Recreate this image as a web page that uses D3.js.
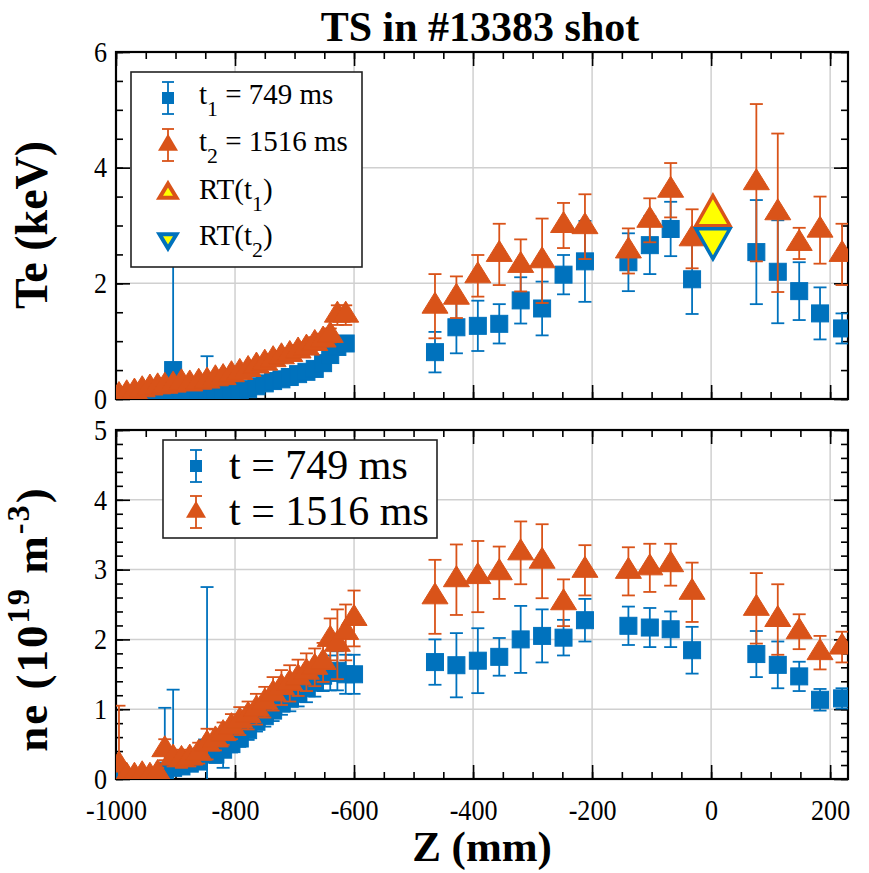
<!DOCTYPE html>
<html>
<head>
<meta charset="utf-8">
<script src="https://cdn.jsdelivr.net/npm/d3@7"></script>
<style>
  body { margin: 0; background: #fff; }
  svg text { font-family: "Liberation Serif", "Times New Roman", serif; fill: #000; }
</style>
</head>
<body>
<div id="chart"></div>
<script>
//Thomson scattering channel positions along Z (mm).
let zPos = [-995, -982, -969, -956, -943, -930, -918, -904, -890, -876, -861, -847, -833, -820, -806,
            -792, -778, -764, -750, -736, -722, -708, -694, -680, -666, -652, -640, -628, -614, -600,
            -464, -428, -392, -356, -320, -284, -248, -212, -139, -103, -68, -32, 76, 112, 148, 183, 220];

//Te at t1 = 749 ms (keV) and its error bars.
let te1 = [0.00, 0.01, 0.02, 0.02, 0.03, 0.04, 0.05, 0.50, 0.07, 0.08, 0.10, 0.12, 0.12, 0.13, 0.14,
           0.15, 0.17, 0.22, 0.27, 0.31, 0.34, 0.38, 0.43, 0.47, 0.52, 0.62, 0.76, 0.90, 0.96, null,
           0.81, 1.24, 1.265, 1.30, 1.705, 1.565, 2.15, 2.38, 2.365, 2.66, 2.94, 2.07, 2.54, 2.20, 1.865, 1.48, 1.22];
let te1Err = [0.05, 0.05, 0.05, 0.05, 0.05, 0.05, 0.06, 2.9, 0.06, 0.06, 0.06, 0.62, 0.06, 0.06, 0.06,
              0.06, 0.07, 0.07, 0.07, 0.08, 0.08, 0.08, 0.08, 0.08, 0.09, 0.09, 0.10, 0.10, 0.10, null,
              0.35, 0.45, 0.435, 0.34, 0.40, 0.465, 0.34, 0.70, 0.50, 0.50, 0.47, 0.60, 0.90, 0.89, 0.50, 0.45, 0.26];

//Te at t2 = 1516 ms (keV) and its error bars.
let te2 = [0.06, 0.09, 0.12, 0.16, 0.19, 0.21, 0.22, 0.24, 0.28, 0.26, 0.29, 0.31, 0.35, 0.37, 0.42,
           0.46, 0.51, 0.57, 0.62, 0.68, 0.73, 0.77, 0.83, 0.88, 0.96, 1.02, 1.10, 1.45, 1.45, null,
           1.605, 1.76, 2.13, 2.50, 2.31, 2.39, 3.00, 2.98, 2.56, 3.09, 3.61, 2.77, 3.74, 3.22, 2.69, 2.92, 2.50];
let te2Err = [0.06, 0.06, 0.06, 0.06, 0.06, 0.06, 0.06, 0.06, 0.07, 0.07, 0.07, 0.07, 0.07, 0.08, 0.08,
              0.08, 0.08, 0.09, 0.09, 0.09, 0.10, 0.10, 0.10, 0.10, 0.11, 0.11, 0.12, 0.17, 0.17, null,
              0.555, 0.36, 0.36, 0.53, 0.45, 0.73, 0.39, 0.56, 0.39, 0.38, 0.47, 0.51, 1.36, 1.37, 0.27, 0.58, 0.53];

//ne at 749 ms (1e19 m^-3) and its error bars.
let ne1 = [0.02, 0.02, 0.02, 0.02, 0.03, 0.03, 0.12, 0.16, 0.18, 0.22, 0.25, 0.45, 0.35, 0.42, 0.50,
           0.58, 0.70, 0.82, 0.90, 0.98, 1.08, 1.15, 1.22, 1.30, 1.38, 1.48, 1.52, 1.55, 1.50, 1.50,
           1.675, 1.63, 1.695, 1.75, 2.00, 2.05, 2.025, 2.275, 2.195, 2.17, 2.145, 1.845, 1.79, 1.635, 1.47, 1.135, 1.155];
let ne1Err = [0.05, 0.05, 0.05, 0.05, 0.05, 0.05, 0.90, 1.12, 0.08, 0.10, 0.10, 2.30, 0.12, 0.26, 0.12,
              0.12, 0.14, 0.14, 0.15, 0.15, 0.16, 0.18, 0.18, 0.20, 0.20, 0.22, 0.25, 0.28, 0.28, 0.28,
              0.325, 0.46, 0.465, 0.27, 0.48, 0.38, 0.255, 0.305, 0.275, 0.28, 0.255, 0.335, 0.33, 0.335, 0.21, 0.155, 0.145];

//ne at 1516 ms (1e19 m^-3) and its error bars.
let ne2 = [0.20, 0.04, 0.04, 0.06, 0.04, 0.08, 0.42, 0.30, 0.28, 0.30, 0.37, 0.50, 0.56, 0.65, 0.75,
           0.83, 0.91, 1.00, 1.10, 1.22, 1.31, 1.37, 1.45, 1.53, 1.60, 1.67, 2.00, 1.93, 2.10, 2.30,
           2.61, 2.855, 2.90, 2.955, 3.24, 3.12, 2.525, 2.99, 2.975, 3.025, 3.07, 2.675, 2.445, 2.285, 2.11, 1.81, 1.89];
let ne2Err = [0.85, 0.08, 0.08, 0.08, 0.08, 0.08, 0.15, 0.12, 0.12, 0.12, 0.15, 0.22, 0.15, 0.16, 0.18,
              0.20, 0.20, 0.22, 0.22, 0.24, 0.25, 0.26, 0.26, 0.27, 0.27, 0.28, 0.30, 0.50, 0.40, 0.40,
              0.53, 0.505, 0.51, 0.375, 0.45, 0.53, 0.335, 0.36, 0.345, 0.345, 0.30, 0.425, 0.505, 0.505, 0.25, 0.24, 0.22];

//Ray-tracing estimates of Te at the centre.
let rtZ = [3, 3];
let rtTe = [3.17, 2.77];

//Tick values.
let xTicks = [-1000, -800, -600, -400, -200, 0, 200];
let teTicks = [0, 2, 4, 6];
let neTicks = [0, 1, 2, 3, 4, 5];

//Colours.
const blue = "#0072BD";
const orange = "#D95319";

//Sizes of the page and the two panels.
let w = 869;
let h = 873;
let left = 116, right = 848;
let topPanel = { y0: 52, y1: 399 };
let botPanel = { y0: 430, y1: 779 };

const svg = d3.select("#chart")
  .append("svg")
  .attr("width", w)
  .attr("height", h);

let xScale = d3.scaleLinear().domain([-1000, 230]).range([left, right]);
let teScale = d3.scaleLinear().domain([0, 6]).range([topPanel.y1, topPanel.y0]);
let neScale = d3.scaleLinear().domain([0, 5]).range([botPanel.y1, botPanel.y0]);

//Plain number labels with a hyphen for negatives, as in the original figure.
const plain = d => String(d);

//Triangle path with its centroid on the data point.
function triPath(tw, th, down) {
  let s = down ? -1 : 1;
  return "M0," + (-s * 2 * th / 3) + "L" + (tw / 2) + "," + (s * th / 3) + "L" + (-tw / 2) + "," + (s * th / 3) + "Z";
}

//Draws grid, ticks and the box of one panel.
function drawFrame(yScale, yMajor, yMinorStep, clipId, showX) {
  let g = svg.append("g");
  let y0 = yScale.range()[1], y1 = yScale.range()[0];

  svg.append("clipPath").attr("id", clipId)
    .append("rect").attr("x", left).attr("y", y0).attr("width", right - left).attr("height", y1 - y0);

  //Grid lines at the major ticks.
  g.selectAll(".gx").data(xTicks.slice(1)).enter().append("line")
    .attr("x1", d => xScale(d)).attr("x2", d => xScale(d))
    .attr("y1", y0).attr("y2", y1)
    .attr("stroke", "#d0d0d0").attr("stroke-width", 1.5);
  g.selectAll(".gy").data(yMajor.slice(1, -1)).enter().append("line")
    .attr("x1", left).attr("x2", right)
    .attr("y1", d => yScale(d)).attr("y2", d => yScale(d))
    .attr("stroke", "#d0d0d0").attr("stroke-width", 1.5);

  let xMinor = d3.range(-1000, 231, 50);
  let yMinor = d3.range(0, yScale.domain()[1] + 0.001, yMinorStep);

  let axes = [
    [d3.axisBottom(xScale).tickValues(xMinor).tickSize(-7).tickFormat(""), "translate(0," + y1 + ")"],
    [d3.axisTop(xScale).tickValues(xMinor).tickSize(-7).tickFormat(""), "translate(0," + y0 + ")"],
    [d3.axisTop(xScale).tickValues(xTicks).tickSize(-14).tickFormat(""), "translate(0," + y0 + ")"],
    [d3.axisLeft(yScale).tickValues(yMinor).tickSize(-7).tickFormat(""), "translate(" + left + ",0)"],
    [d3.axisRight(yScale).tickValues(yMinor).tickSize(-7).tickFormat(""), "translate(" + right + ",0)"],
    [d3.axisRight(yScale).tickValues(yMajor).tickSize(-14).tickFormat(""), "translate(" + right + ",0)"],
    [d3.axisLeft(yScale).tickValues(yMajor).tickSize(-14).tickPadding(10).tickFormat(plain), "translate(" + left + ",0)"],
    [d3.axisBottom(xScale).tickValues(xTicks).tickSize(-14).tickPadding(20).tickFormat(showX ? plain : ""), "translate(0," + y1 + ")"]
  ];
  axes.forEach(a => {
    let ax = svg.append("g").attr("transform", a[1]).call(a[0]);
    ax.attr("font-family", "Liberation Serif").attr("font-size", 29);
    ax.select(".domain").remove();
    ax.selectAll("line").attr("stroke", "#000").attr("stroke-width", 1.6);
    ax.selectAll("text")
      .style("font-family", "'Liberation Serif', serif")
      .style("font-size", "29px")
      .attr("transform", "scale(0.9,1)")
      .attr("fill", "#000");
  });

  svg.append("rect")
    .attr("x", left).attr("y", y0).attr("width", right - left).attr("height", y1 - y0)
    .attr("fill", "none").attr("stroke", "#000").attr("stroke-width", 2.2);
}

//Draws one series with error bars and markers.
function drawSeries(yScale, vals, errs, color, shape, clipId) {
  let pts = zPos.map((z, i) => ({ z: z, v: vals[i], e: errs[i] })).filter(d => d.v !== null);
  let g = svg.append("g").attr("clip-path", "url(#" + clipId + ")");
  let eb = g.selectAll(".eb").data(pts).enter().append("g")
    .attr("stroke", color).attr("stroke-width", 1.8);
  eb.append("line")
    .attr("x1", d => xScale(d.z)).attr("x2", d => xScale(d.z))
    .attr("y1", d => yScale(d.v - d.e)).attr("y2", d => yScale(d.v + d.e));
  eb.append("line")
    .attr("x1", d => xScale(d.z) - 6.5).attr("x2", d => xScale(d.z) + 6.5)
    .attr("y1", d => yScale(d.v - d.e)).attr("y2", d => yScale(d.v - d.e));
  eb.append("line")
    .attr("x1", d => xScale(d.z) - 6.5).attr("x2", d => xScale(d.z) + 6.5)
    .attr("y1", d => yScale(d.v + d.e)).attr("y2", d => yScale(d.v + d.e));

  if (shape === "square") {
    g.selectAll(".mk").data(pts).enter().append("rect")
      .attr("x", d => xScale(d.z) - 8.5).attr("y", d => yScale(d.v) - 8.5)
      .attr("width", 17).attr("height", 17)
      .attr("fill", color).attr("stroke", color).attr("stroke-width", 1);
  } else {
    g.selectAll(".mk").data(pts).enter().append("path")
      .attr("d", triPath(26, 21, false))
      .attr("transform", d => "translate(" + xScale(d.z) + "," + yScale(d.v) + ")")
      .attr("fill", color).attr("stroke", color).attr("stroke-width", 1);
  }
}

//Legend entry marker.
function legendMarker(g, x, y, kind) {
  if (kind === "blueErr" || kind === "orangeErr") {
    let c = kind === "blueErr" ? blue : orange;
    g.append("line").attr("x1", x).attr("x2", x).attr("y1", y - 16).attr("y2", y + 16).attr("stroke", c).attr("stroke-width", 1.8);
    g.append("line").attr("x1", x - 6).attr("x2", x + 6).attr("y1", y - 16).attr("y2", y - 16).attr("stroke", c).attr("stroke-width", 1.8);
    g.append("line").attr("x1", x - 6).attr("x2", x + 6).attr("y1", y + 16).attr("y2", y + 16).attr("stroke", c).attr("stroke-width", 1.8);
    if (kind === "blueErr") {
      g.append("rect").attr("x", x - 6).attr("y", y - 6).attr("width", 12).attr("height", 12).attr("fill", c);
    } else {
      g.append("path").attr("d", triPath(20, 17, false)).attr("transform", "translate(" + x + "," + y + ")").attr("fill", c);
    }
  } else {
    let down = kind === "rt2";
    g.append("path").attr("d", triPath(17, 14, down))
      .attr("transform", "translate(" + x + "," + y + ")")
      .attr("fill", "#FFFF00").attr("stroke", down ? blue : orange).attr("stroke-width", 4).attr("stroke-linejoin", "miter");
  }
}

//Appends a label with sub/superscripts, parts = [[text, "sub"|"sup"|"back"|"", dy], ...].
function richText(t, parts, size) {
  parts.forEach(p => {
    let ts = t.append("tspan").text(p[0]);
    if (p[1] === "sub") ts.attr("font-size", size * 0.75).attr("dy", size * 0.42);
    if (p[1] === "sup") ts.attr("font-size", size * 0.72).attr("dy", -size * 0.4);
    if (p[1] === "back") ts.attr("dy", p[2]);
  });
}

drawFrame(teScale, teTicks, 0.5, "clipTop", false);
drawFrame(neScale, neTicks, 0.2, "clipBot", true);

drawSeries(teScale, te1, te1Err, blue, "square", "clipTop");
drawSeries(teScale, te2, te2Err, orange, "triangle", "clipTop");
drawSeries(neScale, ne1, ne1Err, blue, "square", "clipBot");
drawSeries(neScale, ne2, ne2Err, orange, "triangle", "clipBot");

//Ray-tracing markers.
svg.append("path").attr("d", triPath(34, 30, false))
  .attr("transform", "translate(" + xScale(rtZ[0]) + "," + teScale(rtTe[0]) + ")")
  .attr("fill", "#FFFF00").attr("stroke", orange).attr("stroke-width", 3.5);
svg.append("path").attr("d", triPath(34, 30, true))
  .attr("transform", "translate(" + xScale(rtZ[1]) + "," + teScale(rtTe[1]) + ")")
  .attr("fill", "#FFFF00").attr("stroke", blue).attr("stroke-width", 3.5);

//Legend of the Te panel.
let lg1 = svg.append("g");
lg1.append("rect").attr("x", 131).attr("y", 72).attr("width", 231).attr("height", 195)
  .attr("fill", "#fff").attr("stroke", "#222").attr("stroke-width", 1.6);
let lf = 29;
let leg1 = [
  ["blueErr", [["t", ""], ["1", "sub"], [" = 749 ms", "back", -lf * 0.42]], 98],
  ["orangeErr", [["t", ""], ["2", "sub"], [" = 1516 ms", "back", -lf * 0.42]], 145],
  ["rt1", [["RT(t", ""], ["1", "sub"], [")", "back", -lf * 0.42]], 193],
  ["rt2", [["RT(t", ""], ["2", "sub"], [")", "back", -lf * 0.42]], 239]
];
leg1.forEach(e => {
  legendMarker(lg1, 168, e[2], e[0]);
  let t = lg1.append("text").attr("x", 199).attr("y", e[2] + 6).attr("font-size", lf);
  richText(t, e[1], lf);
});

//Legend of the ne panel.
let lg2 = svg.append("g");
lg2.append("rect").attr("x", 163).attr("y", 440).attr("width", 274).attr("height", 98)
  .attr("fill", "#fff").attr("stroke", "#222").attr("stroke-width", 1.6);
legendMarker(lg2, 196, 466, "blueErr");
legendMarker(lg2, 196, 512, "orangeErr");
lg2.append("text").attr("x", 229).attr("y", 479).attr("font-size", 42).text("t = 749 ms");
lg2.append("text").attr("x", 229).attr("y", 525).attr("font-size", 42).text("t = 1516 ms");

//Title and axis labels.
svg.append("text").attr("x", 480).attr("y", 41).attr("text-anchor", "middle")
  .attr("font-size", 42).attr("font-weight", "bold").text("TS in #13383 shot");
svg.append("text").attr("x", 482).attr("y", 861).attr("text-anchor", "middle")
  .attr("font-size", 43).attr("font-weight", "bold").text("Z (mm)");
svg.append("text").attr("transform", "translate(47,225) rotate(-90)").attr("text-anchor", "middle")
  .attr("font-size", 46).attr("font-weight", "bold").text("Te (keV)");
let neLabel = svg.append("text").attr("transform", "translate(47,619) rotate(-90)").attr("text-anchor", "middle")
  .attr("font-size", 45).attr("font-weight", "bold").attr("letter-spacing", 2);
richText(neLabel, [["ne (10", ""], ["19", "sup"], [" m", "back", 45 * 0.4], ["-3", "sup"], [")", "back", 45 * 0.4]], 45);
</script>
</body>
</html>
